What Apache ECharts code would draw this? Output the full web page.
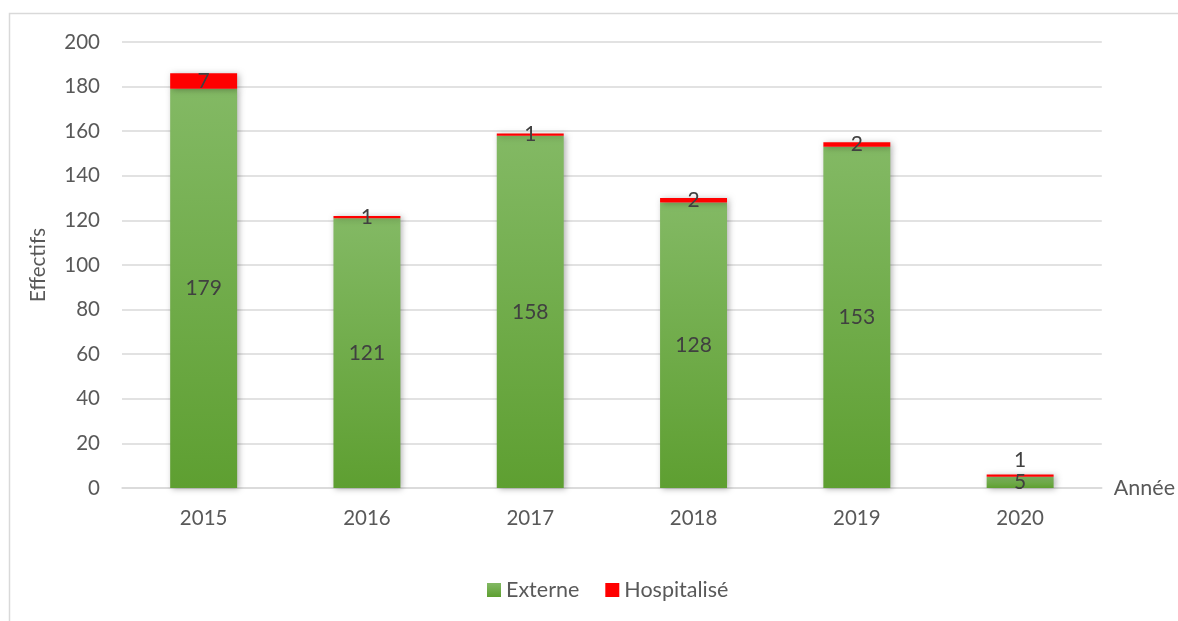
<!DOCTYPE html>
<html>
<head>
<meta charset="utf-8">
<script src="https://cdn.jsdelivr.net/npm/echarts@6/dist/echarts.min.js"></script>
<style>
  html, body { margin: 0; padding: 0; background: #fff; }
  #chart { width: 1178px; height: 621px; }
</style>
</head>
<body>
<div id="chart"></div>
<script>
const years = ["2015", "2016", "2017", "2018", "2019", "2020"];
const externe = [179, 121, 158, 128, 153, 5];
const hospitalise = [7, 1, 1, 2, 2, 1];

const FONT = "Lato, 'Open Sans', sans-serif";
const chart = echarts.init(document.getElementById("chart"));

const shadow = {
  shadowBlur: 6,
  shadowColor: "rgba(0,0,0,0.3)",
  shadowOffsetX: 2,
  shadowOffsetY: 1
};

chart.setOption({
  animation: false,
  textStyle: { fontFamily: FONT },
  graphic: [
    {
      type: "polyline",
      shape: { points: [[9.5, 621], [9.5, 13.5], [1178, 13.5]] },
      style: { stroke: "#d9d9d9", lineWidth: 1.5, fill: null }
    }
  ],
  grid: { left: 122, right: 73, top: 42, bottom: 133 },
  legend: {
    bottom: 15,
    left: 482,
    itemWidth: 14,
    itemHeight: 14,
    itemGap: 26,
    icon: "rect",
    textStyle: { color: "#595959", fontSize: 21.5, fontFamily: FONT },
    data: ["Externe", "Hospitalisé"]
  },
  xAxis: {
    type: "category",
    data: years,
    name: "Année",
    nameLocation: "end",
    nameGap: 12,
    nameTextStyle: { color: "#595959", fontSize: 21.5, padding: [8, 0, 0, 0] },
    axisLine: { lineStyle: { color: "#d9d9d9", width: 1.5 } },
    axisTick: { show: false },
    axisLabel: { color: "#595959", fontSize: 20.5, margin: 20 }
  },
  yAxis: {
    type: "value",
    min: 0,
    max: 200,
    interval: 20,
    name: "Effectifs",
    nameLocation: "middle",
    nameRotate: 90,
    nameGap: 73,
    nameTextStyle: { color: "#595959", fontSize: 20.5 },
    axisLine: { show: false },
    axisTick: { show: false },
    axisLabel: { color: "#595959", fontSize: 20.5, margin: 22 },
    splitLine: { lineStyle: { color: "#d9d9d9", width: 1.5 } }
  },
  series: [
    {
      name: "Externe",
      type: "bar",
      stack: "total",
      barWidth: "41%",
      data: externe,
      itemStyle: Object.assign({
        color: new echarts.graphic.LinearGradient(0, 0, 0, 1, [
          { offset: 0, color: "#83b964" },
          { offset: 1, color: "#5e9f31" }
        ])
      }, shadow),
      label: {
        show: true,
        position: "inside",
        color: "#404040",
        fontSize: 21,
        fontFamily: FONT
      }
    },
    {
      name: "Hospitalisé",
      type: "bar",
      stack: "total",
      data: hospitalise.map((v, i) =>
        i === 5 ? { value: v, label: { position: "top", distance: 4 } } : v
      ),
      itemStyle: Object.assign({ color: "#ff0000" }, shadow),
      label: {
        show: true,
        position: "inside",
        color: "#404040",
        fontSize: 21,
        fontFamily: FONT
      }
    }
  ]
});
</script>
</body>
</html>
